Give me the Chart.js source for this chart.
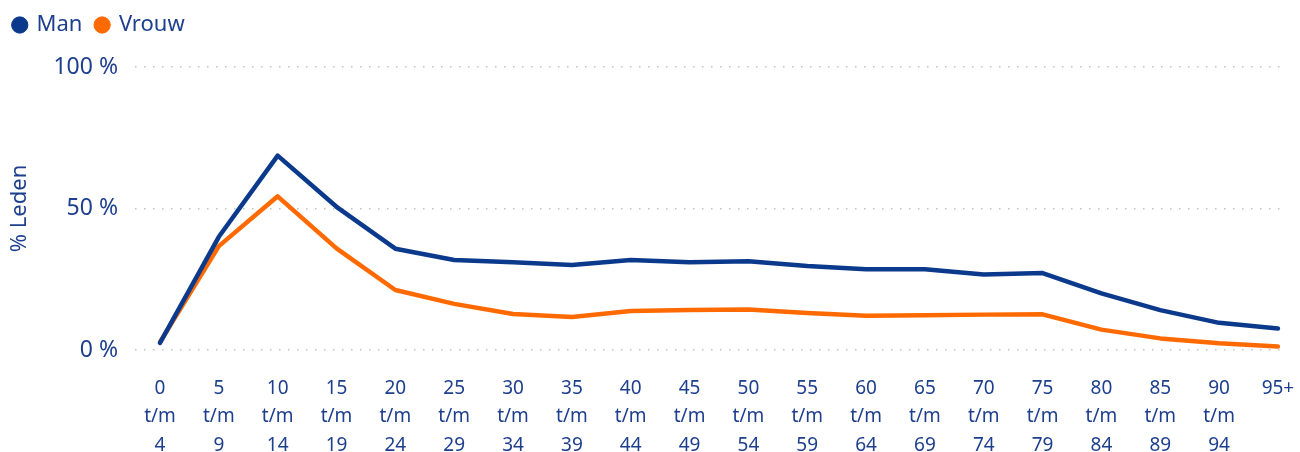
<!DOCTYPE html>
<html>
<head>
<meta charset="utf-8">
<script src="https://cdn.jsdelivr.net/npm/chart.js@4/dist/chart.umd.min.js"></script>
<style>
  html, body { margin: 0; padding: 0; background: #fff; }
</style>
</head>
<body>
<canvas id="chart" width="1300" height="452"></canvas>
<script>
const ageGroups = ['0 t/m 4', '5 t/m 9', '10 t/m 14', '15 t/m 19', '20 t/m 24', '25 t/m 29',
  '30 t/m 34', '35 t/m 39', '40 t/m 44', '45 t/m 49', '50 t/m 54', '55 t/m 59', '60 t/m 64',
  '65 t/m 69', '70 t/m 74', '75 t/m 79', '80 t/m 84', '85 t/m 89', '90 t/m 94', '95+'];
const man = [2.5, 40, 68.7, 50.6, 35.8, 31.8, 31, 30, 31.8, 31, 31.4, 29.7, 28.5, 28.5, 26.7, 27.2, 20, 14.1, 9.6, 7.6];
const vrouw = [2.8, 36.7, 54.3, 35.9, 21.2, 16.3, 12.7, 11.7, 13.8, 14.1, 14.3, 13.1, 12.1, 12.3, 12.5, 12.6, 7.2, 4.1, 2.4, 1.2];
const yTicks = [0, 50, 100];

const TEXT = '#1d3f8e';
const BLUE = '#0b3a8c';
const ORANGE = '#ff6a00';
const FONT = '"Noto Sans", sans-serif';

const toPoints = arr => arr.map((v, i) => ({ x: i, y: v }));

// fixed room above the plot for the legend
const legendSpace = {
  id: 'legendSpace',
  beforeInit(chart) {
    const fit = chart.legend.fit;
    chart.legend.fit = function () {
      fit.bind(chart.legend)();
      this.height = 67;
    };
  }
};

new Chart(document.getElementById('chart').getContext('2d'), {
  type: 'line',
  data: {
    datasets: [
      { label: 'Man', data: toPoints(man), borderColor: BLUE, backgroundColor: BLUE },
      { label: 'Vrouw', data: toPoints(vrouw), borderColor: ORANGE, backgroundColor: ORANGE }
    ]
  },
  options: {
    responsive: false,
    animation: false,
    layout: { padding: { left: 0, right: 15, top: 0, bottom: 0 } },
    elements: {
      line: { borderWidth: 4.5, tension: 0, borderCapStyle: 'round', borderJoinStyle: 'round' },
      point: { radius: 0, hoverRadius: 0 }
    },
    scales: {
      x: {
        type: 'linear',
        min: -0.425,
        max: 19.12,
        grid: { display: false },
        border: { display: false },
        afterFit(scale) {
          scale.height = 102;
          scale.paddingLeft = 0;
          scale.paddingRight = 0;
        },
        afterBuildTicks(scale) {
          scale.ticks = ageGroups.map((_, i) => ({ value: i }));
        },
        ticks: {
          autoSkip: false,
          maxRotation: 0,
          padding: 16,
          color: TEXT,
          font: { family: FONT, size: 19, lineHeight: 1.5 },
          callback: v => ageGroups[v] !== undefined ? ageGroups[v].split(' ') : ''
        }
      },
      y: {
        min: 0,
        max: 100,
        afterFit(scale) { scale.width = 135; },
        afterBuildTicks(scale) {
          scale.ticks = yTicks.map(v => ({ value: v }));
        },
        grid: {
          color: '#c4c4c4',
          lineWidth: 1.5,
          drawTicks: false
        },
        border: { display: false, dash: [1.5, 7.5] },
        ticks: {
          padding: 17,
          color: TEXT,
          font: { family: FONT, size: 23 },
          callback: v => v + ' %'
        },
        title: {
          display: true,
          text: '% Leden',
          color: TEXT,
          font: { family: FONT, size: 22 },
          padding: { top: 7, bottom: 0 }
        }
      }
    },
    plugins: {
      legend: {
        display: true,
        position: 'top',
        align: 'start',
        labels: {
          usePointStyle: true,
          pointStyle: 'circle',
          boxWidth: 11.5,
          boxHeight: 11.5,
          padding: 14,
          color: TEXT,
          font: { family: FONT, size: 22 }
        }
      },
      tooltip: { enabled: false }
    },
    events: []
  },
  plugins: [legendSpace]
});
</script>
</body>
</html>
